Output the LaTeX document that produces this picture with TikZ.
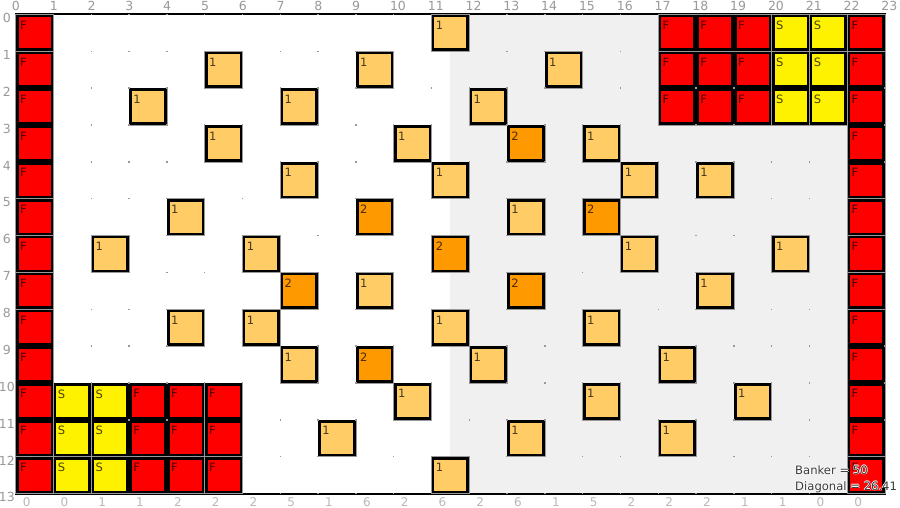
\documentclass[tikz,border=0pt]{standalone}
\usepackage{fontspec}
\setmainfont{DejaVu Sans}
\definecolor{lorange}{HTML}{FFCC66}
\definecolor{dorange}{HTML}{FF9900}
\definecolor{bgray}{HTML}{F0F0F0}
\definecolor{axgray}{HTML}{999999}
\definecolor{axlight}{HTML}{B8B8B8}
\definecolor{darktext}{HTML}{3A3A3A}
\tikzset{
  cellbox/.style={draw=black, line width=2.6pt, minimum width=34.6pt, minimum height=33.65pt, inner sep=0pt, outer sep=0pt},
  cF/.style={cellbox, fill=red},
  cS/.style={cellbox, fill=yellow},
  cone/.style={cellbox, fill=lorange},
  ctwo/.style={cellbox, fill=dorange},
  celltext/.style={anchor=north west, inner sep=0pt, font=\fontsize{11.5}{13}\selectfont, text=black, text opacity=0.72},
  cellline/.style={draw=axgray, line width=0.6pt},
  toplab/.style={anchor=west, inner sep=0pt, font=\fontsize{12.5}{14}\selectfont, text=axgray},
  leftlab/.style={anchor=center, inner sep=0pt, font=\fontsize{12.5}{14}\selectfont, text=axgray},
  botlab/.style={anchor=west, inner sep=0pt, font=\fontsize{12}{14}\selectfont, text=axlight},
  bankfont/.style={anchor=base west, inner sep=0pt, font=\fontsize{11.6}{13}\selectfont},
}
\newcommand\mycell[4]{%
  \draw[cellline] (#1,#2) rectangle ++(1,1);
  \node[#3] (cell-#1-#2) at (#1+0.5,#2+0.5) {};
  \node[celltext] (txt-#1-#2) at ([xshift=2.6pt,yshift=-4.8pt]cell-#1-#2.north west) {#4};
}
\newcommand\halotext[3]{%
  \foreach \dx/\dy [count=\k] in {0.7/0,-0.7/0,0/0.7,0/-0.7}
    \node[bankfont, text=white] (#1-h\k) at ([xshift=\dx pt, yshift=\dy pt]#2) {#3};
  \node[bankfont, text=darktext] (#1) at (#2) {#3};
}
\begin{document}
\begin{tikzpicture}[x=37.8pt, y=-36.85pt]
  \useasboundingbox[fill=white] (-0.41270,-0.39349) rectangle (23.39683,13.39213);
  % shaded half
  \fill[bgray] (11.5,0) rectangle (23,13);
  % frame
  \draw[black, line width=2pt] (0,0) rectangle (23,13);
  % axis labels
  \foreach \i in {0,...,23}
    \node[toplab] (top-\i) at ([xshift=-3.8pt]\i,-0.23) {\i};
  \foreach \j in {0,...,13}
    \node[leftlab] (left-\j) at (-0.23,\j+0.1) {\j};
  \foreach \v [count=\n from 0] in {0,0,1,1,2,2,2,5,1,6,2,6,2,6,1,5,2,2,2,1,1,0,0}
    \node[botlab] (bot-\n) at ([xshift=7pt]\n,13.24) {\v};
  % F columns
  \foreach \r in {0,...,12} {
    \mycell{0}{\r}{cF}{F}
    \mycell{22}{\r}{cF}{F}
  }
  % top right block
  \foreach \r in {0,1,2} {
    \foreach \c in {17,18,19} { \mycell{\c}{\r}{cF}{F} }
    \foreach \c in {20,21} { \mycell{\c}{\r}{cS}{S} }
  }
  % bottom left block
  \foreach \r in {10,11,12} {
    \foreach \c in {1,2} { \mycell{\c}{\r}{cS}{S} }
    \foreach \c in {3,4,5} { \mycell{\c}{\r}{cF}{F} }
  }
  % value 1 cells
  \foreach \c/\r in {11/0,5/1,9/1,14/1,3/2,7/2,12/2,5/3,10/3,15/3,7/4,11/4,16/4,18/4,4/5,13/5,2/6,6/6,16/6,20/6,9/7,18/7,4/8,6/8,11/8,15/8,7/9,12/9,17/9,10/10,15/10,19/10,8/11,13/11,17/11,11/12}
    { \mycell{\c}{\r}{cone}{1} }
  % value 2 cells
  \foreach \c/\r in {13/3,9/5,15/5,11/6,7/7,13/7,9/9}
    { \mycell{\c}{\r}{ctwo}{2} }
  % grid dots
  \foreach \i in {0,...,23}
    \foreach \j in {0,...,13}
      \fill[axgray] (\i,\j) ++(-0.7pt,-0.7pt) rectangle ++(1.4pt,1.4pt);
  % info text
  \coordinate (bk) at (20.62,12.47);
  \coordinate (dg) at (20.62,12.905);
  \halotext{banker}{bk}{Banker = 50}
  \halotext{diag}{dg}{Diagonal = 26.41}
\end{tikzpicture}
\end{document}
